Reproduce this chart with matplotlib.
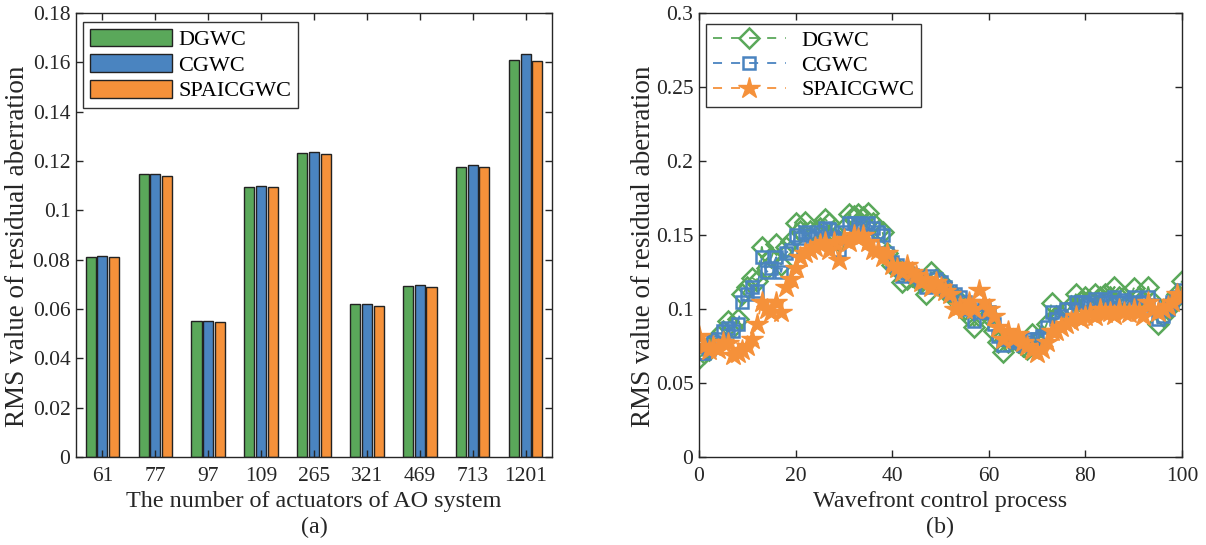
import matplotlib
matplotlib.use("Agg")
import matplotlib.pyplot as plt
import numpy as np
from matplotlib.ticker import FuncFormatter

# ---------------- data ----------------
actuators = ["61", "77", "97", "109", "265", "321", "469", "713", "1201"]
bar_dgwc = [0.0809, 0.1147, 0.0550, 0.1095, 0.1233, 0.0619, 0.0692, 0.1175, 0.1608]
bar_cgwc = [0.0813, 0.1147, 0.0552, 0.1097, 0.1237, 0.0621, 0.0698, 0.1182, 0.1634]
bar_spaic = [0.0810, 0.1140, 0.0549, 0.1095, 0.1228, 0.0614, 0.0690, 0.1174, 0.1604]

steps = list(range(0, 101))
line_dgwc = [
    0.067, 0.070, 0.072, 0.078, 0.082, 0.085, 0.092, 0.088, 0.093, 0.110,
    0.115, 0.121, 0.119, 0.142, 0.128, 0.135, 0.144, 0.130, 0.142, 0.146,
    0.158, 0.153, 0.159, 0.153, 0.152, 0.155, 0.161, 0.158, 0.152, 0.146,
    0.155, 0.164, 0.163, 0.164, 0.162, 0.165, 0.158, 0.153, 0.152, 0.138,
    0.130, 0.128, 0.118, 0.120, 0.122, 0.120, 0.118, 0.110, 0.125, 0.120,
    0.118, 0.112, 0.110, 0.108, 0.105, 0.100, 0.095, 0.088, 0.095, 0.100,
    0.095, 0.085, 0.078, 0.071, 0.078, 0.080, 0.078, 0.075, 0.073, 0.083,
    0.078, 0.082, 0.090, 0.104, 0.095, 0.095, 0.098, 0.102, 0.110, 0.105,
    0.108, 0.105, 0.110, 0.108, 0.110, 0.108, 0.115, 0.108, 0.108, 0.105,
    0.114, 0.108, 0.105, 0.115, 0.105, 0.090, 0.095, 0.100, 0.105, 0.110,
    0.119]
line_cgwc = [
    0.070, 0.070, 0.073, 0.078, 0.080, 0.085, 0.087, 0.085, 0.090, 0.105,
    0.110, 0.115, 0.112, 0.135, 0.125, 0.128, 0.135, 0.125, 0.138, 0.140,
    0.150, 0.148, 0.152, 0.150, 0.148, 0.152, 0.155, 0.154, 0.148, 0.140,
    0.152, 0.158, 0.158, 0.158, 0.157, 0.158, 0.155, 0.152, 0.150, 0.138,
    0.132, 0.130, 0.122, 0.124, 0.123, 0.122, 0.120, 0.115, 0.122, 0.120,
    0.118, 0.115, 0.112, 0.110, 0.108, 0.105, 0.100, 0.092, 0.098, 0.100,
    0.098, 0.090, 0.082, 0.076, 0.080, 0.080, 0.078, 0.076, 0.078, 0.080,
    0.080, 0.082, 0.088, 0.098, 0.093, 0.095, 0.100, 0.100, 0.105, 0.105,
    0.105, 0.103, 0.107, 0.105, 0.107, 0.105, 0.108, 0.105, 0.106, 0.104,
    0.108, 0.105, 0.105, 0.108, 0.103, 0.093, 0.095, 0.100, 0.105, 0.108,
    0.113]
line_spaic = [
    0.082, 0.075, 0.072, 0.075, 0.073, 0.078, 0.077, 0.069, 0.070, 0.072,
    0.075, 0.080, 0.090, 0.105, 0.100, 0.098, 0.105, 0.098, 0.115, 0.120,
    0.128, 0.135, 0.138, 0.140, 0.142, 0.144, 0.145, 0.140, 0.145, 0.133,
    0.147, 0.145, 0.150, 0.148, 0.150, 0.145, 0.140, 0.140, 0.135, 0.138,
    0.130, 0.128, 0.125, 0.130, 0.125, 0.123, 0.118, 0.120, 0.115, 0.118,
    0.115, 0.112, 0.110, 0.100, 0.102, 0.100, 0.105, 0.100, 0.113, 0.105,
    0.100, 0.095, 0.088, 0.080, 0.085, 0.080, 0.083, 0.078, 0.075, 0.072,
    0.070, 0.073, 0.078, 0.085, 0.085, 0.088, 0.090, 0.092, 0.095, 0.093,
    0.095, 0.097, 0.095, 0.100, 0.097, 0.098, 0.096, 0.100, 0.098, 0.097,
    0.100, 0.098, 0.095, 0.105, 0.100, 0.098, 0.100, 0.102, 0.105, 0.110,
    0.108]

labels = ["DGWC", "CGWC", "SPAICGWC"]
left_yticks = [0, 0.02, 0.04, 0.06, 0.08, 0.1, 0.12, 0.14, 0.16, 0.18]
right_yticks = [0, 0.05, 0.1, 0.15, 0.2, 0.25, 0.3]
right_xticks = [0, 20, 40, 60, 80, 100]

# ---------------- style ----------------
GREEN = "#5aa85a"
BLUE = "#4a84c0"
ORANGE = "#f5913a"
AXC = "#262626"
FS = 15.5
LFS = 17.4

plt.rcParams["font.family"] = ["Liberation Serif", "DejaVu Serif"]
plt.rcParams["font.size"] = FS
plt.rcParams["axes.linewidth"] = 1.0
plt.rcParams["axes.edgecolor"] = AXC

W, H = 1206, 545
fig = plt.figure(figsize=(W / 100, H / 100), dpi=100)


def px_axes(x0, y0, x1, y1):
    return fig.add_axes([x0 / W, 1 - y1 / H, (x1 - x0) / W, (y1 - y0) / H])


fmt = FuncFormatter(lambda v, p: ("%g" % round(v, 4)))


def style_axes(ax):
    ax.tick_params(direction="in", length=5, width=1.0, color=AXC,
                   top=True, right=True, labelsize=FS, labelcolor="#262626")
    ax.tick_params(axis="y", pad=4)
    ax.tick_params(axis="x", pad=7)
    ax.yaxis.set_major_formatter(fmt)


# ---------------- left: bars ----------------
ax1 = px_axes(76, 13, 552, 457)
x = np.arange(1, len(actuators) + 1)
bw = 0.19
off = 0.222
ax1.bar(x - off, bar_dgwc, bw, color=GREEN, edgecolor="#222222", linewidth=1.0, label=labels[0])
ax1.bar(x, bar_cgwc, bw, color=BLUE, edgecolor="#222222", linewidth=1.0, label=labels[1])
ax1.bar(x + off, bar_spaic, bw, color=ORANGE, edgecolor="#222222", linewidth=1.0, label=labels[2])
ax1.set_xlim(0.5, len(actuators) + 0.5)
ax1.set_ylim(0, 0.18)
ax1.set_xticks(x)
ax1.set_xticklabels(actuators)
ax1.set_yticks(left_yticks)
style_axes(ax1)
leg1 = ax1.legend(loc="upper left", bbox_to_anchor=(83 / W, 1 - 22 / H),
                  bbox_transform=fig.transFigure, borderaxespad=0,
                  fancybox=False, framealpha=1, edgecolor="#333333",
                  fontsize=16, handlelength=3.7, handleheight=0.85,
                  handletextpad=0.3, labelspacing=0.18, borderpad=0.3)
leg1.get_frame().set_linewidth(1.0)

# ---------------- right: lines ----------------
ax2 = px_axes(699, 13, 1182, 457)
dash = (0, (5, 5))
ax2.plot(steps, line_dgwc, linestyle=dash, color=GREEN, lw=1.3,
         marker="D", ms=10, mfc="none", mec=GREEN, mew=1.8, label=labels[0])
ax2.plot(steps, line_cgwc, linestyle=dash, color=BLUE, lw=1.3,
         marker="s", ms=9, mfc="none", mec=BLUE, mew=1.8, label=labels[1])
ax2.plot(steps, line_spaic, linestyle=dash, color=ORANGE, lw=1.3,
         marker="*", ms=16, mfc=ORANGE, mec=ORANGE, mew=1.0, label=labels[2])
ax2.set_xlim(0, 100)
ax2.set_ylim(0, 0.3)
ax2.set_xticks(right_xticks)
ax2.set_yticks(right_yticks)
style_axes(ax2)
leg2 = ax2.legend(loc="upper left", bbox_to_anchor=(706 / W, 1 - 24 / H),
                  bbox_transform=fig.transFigure, borderaxespad=0,
                  fancybox=False, framealpha=1, edgecolor="#333333",
                  fontsize=16, handlelength=3.3, handletextpad=0.7,
                  labelspacing=0.18, borderpad=0.3, numpoints=1)
leg2.get_frame().set_linewidth(1.0)

# ---------------- labels ----------------
TC = "#262626"
fig.text(18 / W, 1 - 246 / H, "RMS value of residual aberration", rotation=90,
         ha="center", va="center", fontsize=19.5, color=TC)
fig.text(643 / W, 1 - 246 / H, "RMS value of residual aberration", rotation=90,
         ha="center", va="center", fontsize=19.5, color=TC)
fig.text(314 / W, 1 - 502 / H, "The number of actuators of AO system",
         ha="center", va="center", fontsize=LFS, color=TC)
fig.text(940 / W, 1 - 502 / H, "Wavefront control process",
         ha="center", va="center", fontsize=LFS, color=TC)
fig.text(314 / W, 1 - 527 / H, "(a)", ha="center", va="center", fontsize=LFS, color=TC)
fig.text(940 / W, 1 - 527 / H, "(b)", ha="center", va="center", fontsize=LFS, color=TC)

fig.savefig("out.png", dpi=100)
